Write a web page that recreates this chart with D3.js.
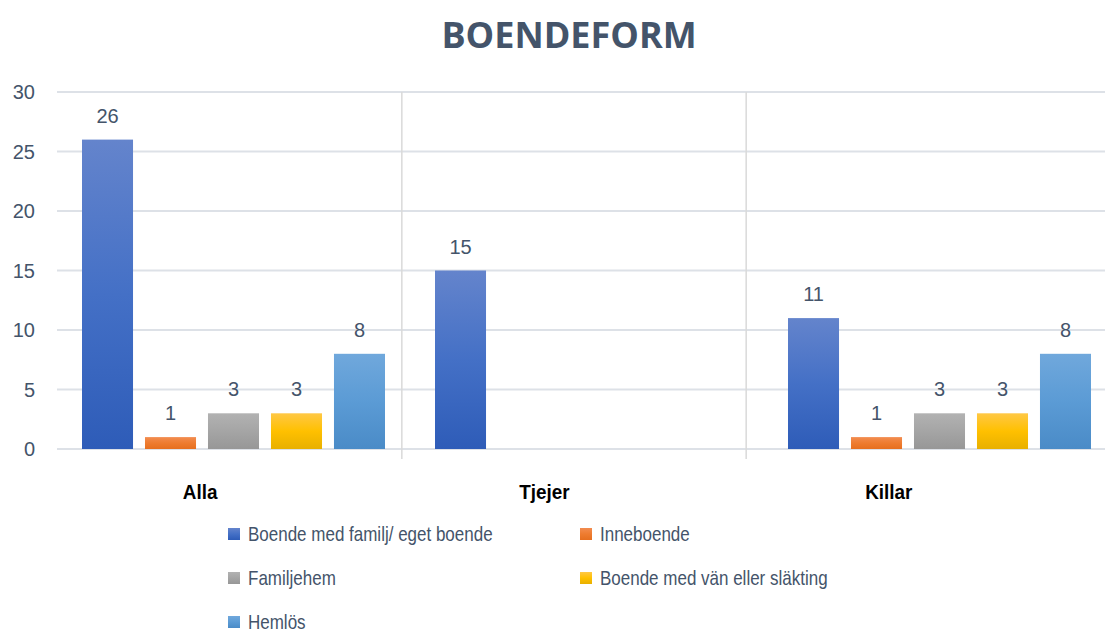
<!DOCTYPE html>
<html>
<head>
<meta charset="utf-8">
<script src="https://cdn.jsdelivr.net/npm/d3@7"></script>
<style>
  body { margin: 0; background: #fff; }
  svg text { font-family: "Liberation Sans", Arial, sans-serif; }
</style>
</head>
<body>
<svg width="1105" height="633"></svg>
<script>
// data
const categories = ['Alla', 'Tjejer', 'Killar']
const series = ['Boende med familj/ eget boende', 'Inneboende', 'Familjehem', 'Boende med vän eller släkting', 'Hemlös']
const values = [
  [26, 15, 11],   // Boende med familj/ eget boende
  [1, null, 1],   // Inneboende
  [3, null, 3],   // Familjehem
  [3, null, 3],   // Boende med vän eller släkting
  [8, null, 8]    // Hemlös
]
const yTicks = [0, 5, 10, 15, 20, 25, 30]

// kleuren (top, midden, onder) per serie
const colors = [
  ['#6484cc', '#4470c6', '#2e5cb8'],
  ['#f28c50', '#ee7c30', '#e66f1f'],
  ['#b2b2b2', '#a5a5a5', '#979797'],
  ['#ffc845', '#ffc000', '#e8b000'],
  ['#70a8dc', '#5b9bd5', '#4a8bc7']
]

const svg = d3.select('svg')
const width = +svg.attr('width')
const height = +svg.attr('height')

const margin = {top: 92, right: 15, bottom: 184, left: 57}
const innerHeight = height - margin.top - margin.bottom

// data omzetten naar rijen
const rows = []
categories.forEach((c, ci) => {
  series.forEach((s, si) => {
    if (values[si][ci] != null) rows.push({cat: c, serie: s, si: si, value: values[si][ci]})
  })
})

const yscale = d3.scaleLinear().domain([0, 30]).range([margin.top + innerHeight, margin.top])

// as-schaal voor de scheidingslijnen
const xAxisScale = d3.scaleBand().domain(categories).range([margin.left, 1090])

// schaal voor de groepen bars
const xCat = d3.scaleBand().domain(categories).range([margin.left, margin.left + 3 * 353])
const xBar = d3.scaleBand().domain(series).range([25, 328]).paddingInner(0.19).paddingOuter(0)

const defs = svg.append('defs')
colors.forEach((c, i) => {
  const grad = defs.append('linearGradient')
    .attr('id', 'grad' + i).attr('x1', 0).attr('y1', 0).attr('x2', 0).attr('y2', 1)
  grad.append('stop').attr('offset', '0%').attr('stop-color', c[0])
  grad.append('stop').attr('offset', '50%').attr('stop-color', c[1])
  grad.append('stop').attr('offset', '100%').attr('stop-color', c[2])
})

// titel
svg.append('text')
  .attr('x', 569).attr('y', 48)
  .attr('text-anchor', 'middle')
  .style('font-family', '"Open Sans", "Noto Sans", sans-serif')
  .style('font-weight', 'bold')
  .style('font-size', '36px')
  .attr('fill', '#44546a')
  .text('BOENDEFORM')

// gridlines
svg.append('g').selectAll('line').data(yTicks).enter().append('line')
  .attr('x1', margin.left).attr('x2', width)
  .attr('y1', d => yscale(d)).attr('y2', d => yscale(d))
  .attr('stroke', '#dde1e7').attr('stroke-width', 2)

// y-as labels
svg.append('g').selectAll('text').data(yTicks).enter().append('text')
  .attr('x', 35).attr('y', d => yscale(d) + 7)
  .attr('text-anchor', 'end')
  .style('font-size', '20px')
  .attr('fill', '#44546a')
  .text(d => d)

// scheidingslijnen tussen categorieen
svg.append('g').selectAll('line').data(categories.slice(1)).enter().append('line')
  .attr('x1', d => xAxisScale(d) + 0.5).attr('x2', d => xAxisScale(d) + 0.5)
  .attr('y1', yscale(30)).attr('y2', yscale(0) + 10)
  .attr('stroke', '#d9d9d9').attr('stroke-width', 1.5)

// bars
const g = svg.append('g')
g.selectAll('rect').data(rows).enter().append('rect')
  .attr('x', d => xCat(d.cat) + xBar(d.serie))
  .attr('y', d => yscale(d.value))
  .attr('width', xBar.bandwidth())
  .attr('height', d => yscale(0) - yscale(d.value))
  .attr('fill', d => `url(#grad${d.si})`)

// waardes boven de bars
g.selectAll('text').data(rows).enter().append('text')
  .attr('x', d => xCat(d.cat) + xBar(d.serie) + xBar.bandwidth() / 2)
  .attr('y', d => yscale(d.value) - 17)
  .attr('text-anchor', 'middle')
  .style('font-size', '20px')
  .attr('fill', '#44546a')
  .text(d => d.value)

// categorie labels
svg.append('g').selectAll('text').data(categories).enter().append('text')
  .attr('x', d => xAxisScale(d) + xAxisScale.bandwidth() / 2 - 29)
  .attr('y', 499)
  .attr('text-anchor', 'middle')
  .style('font-size', '21px')
  .style('font-weight', 'bold')
  .attr('fill', '#000')
  .attr('transform', d => {
    const cx = xAxisScale(d) + xAxisScale.bandwidth() / 2 - 29
    return `translate(${cx}, 0) scale(0.9, 1) translate(${-cx}, 0)`
  })
  .text(d => d)

// legenda
const legendPos = [[228, 534], [580, 534], [228, 578], [580, 578], [228, 622]]
const legend = svg.append('g').selectAll('g').data(series).enter().append('g')
  .attr('transform', (d, i) => `translate(${legendPos[i][0]}, ${legendPos[i][1]})`)
legend.append('rect')
  .attr('x', 0).attr('y', -6).attr('width', 12).attr('height', 12)
  .attr('fill', (d, i) => `url(#grad${i})`)
legend.append('text')
  .attr('transform', 'translate(20, 7) scale(0.85, 1)')
  .style('font-size', '20px')
  .attr('fill', '#44546a')
  .text(d => d)
</script>
</body>
</html>
